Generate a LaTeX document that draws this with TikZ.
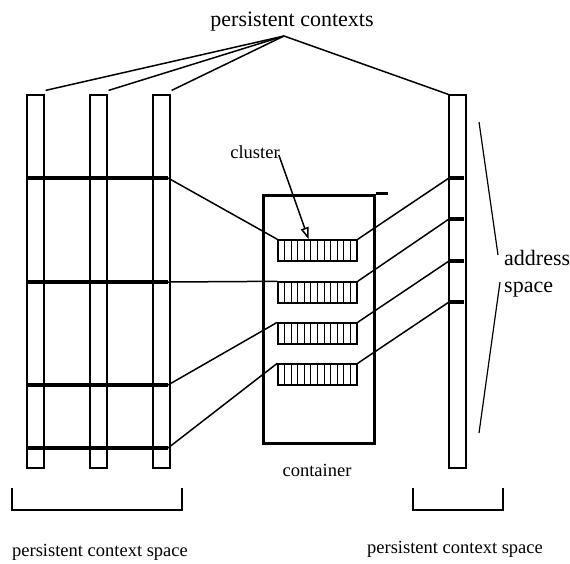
\documentclass[tikz,border=0pt]{standalone}
\usepackage{fontspec}
\setmainfont{Liberation Serif}
\usetikzlibrary{arrows.meta,positioning,calc}

\begin{document}
\begin{tikzpicture}[
    x=1pt, y=-1pt,
    ctxbar/.style={rectangle, draw, line width=1.2pt, minimum width=17pt, minimum height=373pt, inner sep=0pt},
    cluster/.style={rectangle, draw, line width=1.4pt, minimum width=79pt, minimum height=21pt, inner sep=0pt,
        path picture={\foreach \i in {1,...,11}
            \draw[line width=1.1pt] ($(path picture bounding box.south west)!\i/12!(path picture bounding box.south east)$) -- ++(0,-21);}},
    contbox/.style={rectangle, draw, line width=3pt, minimum width=111pt, minimum height=248pt, inner sep=0pt},
    seg/.style={line width=4pt},
    conn/.style={line width=1.5pt},
    bigtext/.style={inner sep=0pt, font=\fontsize{22}{27}\selectfont},
    captext/.style={inner sep=0pt, font=\fontsize{18.5}{22}\selectfont}
]
    \useasboundingbox (0,0) rectangle (570,563);

    % persistent contexts
    \foreach \x/\n in {35.5/b1, 98.5/b2, 161.5/b3, 457.5/rb}
        \node [ctxbar] (\n) at (\x,281.5) {};
    \foreach \y/\n in {178/1, 282/2, 385/3, 448/4}
        \draw [seg] (27,\y) -- (168,\y) coordinate (s\n);
    \foreach \y/\n in {178/1, 219/2, 261/3, 302/4}
        \draw [seg] (449,\y) coordinate (t\n) -- (464,\y);

    % container with clusters
    \node [contbox] (cont) at (318.5,319) {};
    \draw [line width=3pt] (cont.north east) -- ++(12,0);
    \foreach \y/\n in {250.5/1, 292.5/2, 333.5/3, 374.5/4}
        \node [cluster] (c\n) at (317.5,\y) {};

    \foreach \n in {1,...,4} {
        \draw [conn] (s\n) -- (c\n.north west);
        \draw [conn] (c\n.north east) -- (t\n);
    }

    % labels
    \node [bigtext] (pc) at (292,22) {persistent contexts};
    \coordinate (apex) at (284,36);
    \draw [conn] (apex) -- ($(b1.north east)+(1,-4)$);
    \draw [conn] (apex) -- ($(b2.north east)+(1,-4)$);
    \draw [conn] (apex) -- ($(b3.north east)+(1,-4)$);
    \draw [conn] (apex) -- (rb.north west);

    \node [captext] (cl) at (255,152) {cluster};
    \draw [conn, -{Triangle[open, length=12pt, width=8pt]}] ($(cl.east)+(-1,3)$) -- ($(c1.north west)!0.39!(c1.north east)$);

    \node [captext] (cn) at (317,470) {container};

    \node [bigtext, anchor=west, align=left] (as) at (504,274) {address\\space};
    \coordinate (a1) at (479,122);
    \coordinate (a2) at (479,433);
    \draw [line width=1.2pt] (a1) -- ($(as.west)+(-6,-19)$);
    \draw [line width=1.2pt] ($(as.west)+(-4,8)$) -- (a2);

    % context spaces
    \draw [line width=1.3pt] (12,488) -- (12,510) -- (182,510) -- (182,488);
    \draw [line width=1.3pt] (413,488) -- (413,510) -- (503,510) -- (503,488);
    \node [captext] (ls) at (100,552) {persistent context space};
    \node [captext] (rs) at (455,549) {persistent context space};
\end{tikzpicture}
\end{document}
